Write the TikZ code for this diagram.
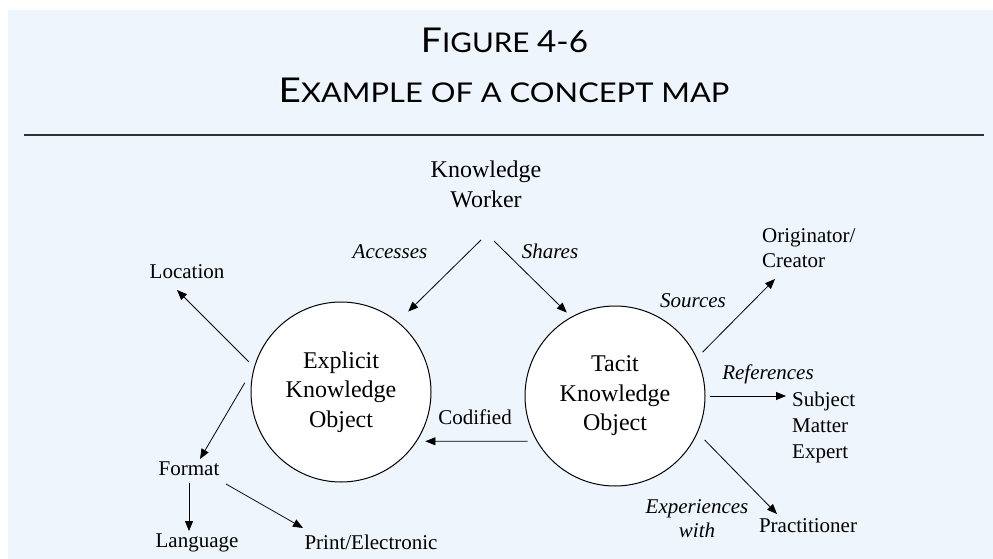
\documentclass[tikz,border=0pt]{standalone}
\usepackage{fontspec}
\setmainfont{Liberation Serif}
\newfontfamily\titlefont{Lato}
\usetikzlibrary{arrows.meta,calc}
\definecolor{bgblue}{RGB}{239,245,252}
\definecolor{rulegray}{RGB}{50,50,50}
\tikzset{
  arr/.style={-{Triangle[length=10pt,width=8pt]}, line width=0.8pt},
  bigtext/.style={font=\fontsize{24}{30}\selectfont, inner sep=0pt, align=center},
  smalltext/.style={font=\fontsize{21}{26}\selectfont, inner sep=0pt},
  linklabel/.style={font=\fontsize{21}{24}\selectfont\itshape, inner sep=0pt, align=center},
  concept/.style={circle, draw, fill=white, line width=1pt, minimum size=180pt,
    inner sep=0pt, align=center, font=\fontsize{24}{29.5}\selectfont},
  titletext/.style={inner sep=0pt, anchor=base}
}
\newcommand{\ttlbig}[1]{{\fontsize{34.2}{40}\selectfont #1}}
\newcommand{\ttlsmall}[1]{{\fontsize{27.2}{32}\selectfont #1}}
\begin{document}
\begin{tikzpicture}[x=1pt,y=-1pt]
\useasboundingbox (0,0) rectangle (993,559);
\fill[bgblue] (8,10) rectangle (993,559);
\draw[line width=1.5pt, rulegray] (24,135) -- (984,135);

% title
\node[titletext] (t1) at (504.5,52.3) {\scalebox{1.09}[1]{\titlefont\ttlbig{F}\ttlsmall{IGURE\ }{\fontsize{30.5}{32}\selectfont 4-6}}};
\node[titletext] (t2) at (504,102.3) {\scalebox{1.135}[1]{\titlefont\ttlbig{E}\ttlsmall{XAMPLE OF A CONCEPT MAP}}};

% concepts
\node[concept] (exp) at (341,392) {Explicit\\Knowledge\\Object};
\node[concept] (tac) at (615,396) {Tacit\\Knowledge\\Object};

\node[bigtext, anchor=base] (kw) at (486,207) {Knowledge\\Worker};
\node[smalltext, anchor=base] (loc) at (187,278) {Location};
\node[smalltext, anchor=base] (fmt) at (189,475) {Format};
\node[smalltext, anchor=base] (lang) at (197,547) {Language};
\node[smalltext, anchor=base] (pe) at (371,549) {Print/Electronic};
\node[smalltext, anchor=base] (cod) at (475,424) {Codified};
\node[smalltext, anchor=base west, align=left, font=\fontsize{21}{26}\selectfont] (sme) at (792,458) {Subject\\Matter\\Expert};
\node[smalltext, anchor=base west, align=left, font=\fontsize{21}{25}\selectfont] (orig) at (762,267) {Originator/\\Creator};
\node[smalltext, anchor=base] (prac) at (808,532) {Practitioner};

% link labels
\node[linklabel, anchor=base] (acc) at (390,258) {Accesses};
\node[linklabel, anchor=base] (sha) at (550,258) {Shares};
\node[linklabel, anchor=base] (src) at (693,307) {Sources};
\node[linklabel, anchor=base] (ref) at (768,379) {References};
\node[linklabel, anchor=base] (expw) at (697,537) {Experiences\\with};

% connector ends
\coordinate (kwL) at (481,240);
\coordinate (kwR) at (494,241);
\coordinate (locT) at (177,290);
\coordinate (fmtT) at (200,459);
\coordinate (peT) at (303,528);
\coordinate (peS) at (226,484);
\coordinate (srcT) at (775,279);
\coordinate (smeT) at (786,396);
\coordinate (pracT) at (777,514);

% connectors
\draw[arr, shorten >=14.4pt] (kwL) -- (exp.51);
\draw[arr, shorten >=6.1pt] (kwR) -- (tac.119);
\draw[arr, shorten <=9pt, shorten >=8.5pt] (tac.210) -- (exp.-33);
\draw[arr, shorten <=7.4pt] (exp.164.7) -- (locT);
\draw[arr, shorten <=18.2pt] (exp.164.5) -- (fmtT);
\draw[arr, shorten <=8pt, shorten >=2pt] (fmt.south) -- (fmt.south |- lang.north);
\draw[arr] (peS) -- (peT);
\draw[arr, shorten <=7.9pt] (tac.25.3) -- (srcT);
\draw[arr, shorten <=4pt] (tac.0) -- (smeT);
\draw[arr, shorten <=10pt] (tac.-24.8) -- (pracT);
\end{tikzpicture}
\end{document}
